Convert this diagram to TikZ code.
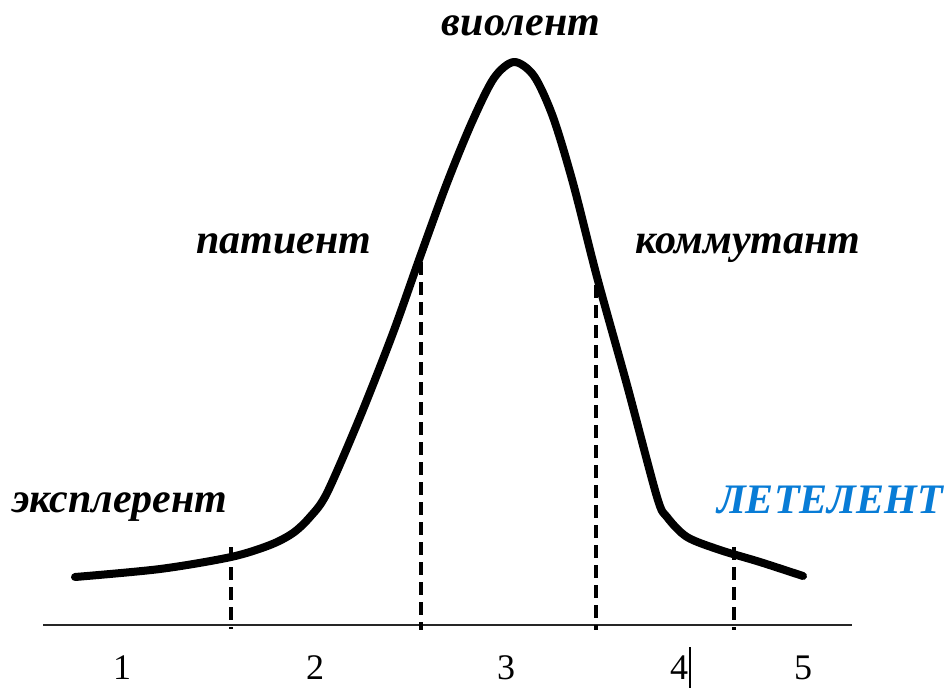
\documentclass[tikz,border=0pt]{standalone}
\usepackage{fontspec}
\setmainfont{Liberation Serif}
\definecolor{letblue}{RGB}{8,124,214}
\begin{document}
\begin{tikzpicture}[x=1pt,y=-1pt,
  lbl/.style={font=\fontsize{42}{46}\selectfont\bfseries\itshape, inner sep=0pt, anchor=base},
  num/.style={font=\fontsize{36}{40}\selectfont, inner sep=0pt, anchor=base},
  curve/.style={line width=8pt, line cap=round, line join=round},
  dashline/.style={line width=4pt, dash pattern=on 13pt off 7pt},
  axis/.style={line width=2.2pt, black!85}]
\useasboundingbox (0,0) rectangle (951,689);
% axis
\coordinate (axL) at (43,625);
\coordinate (axR) at (852,625);
\draw[axis] (axL) -- (axR);
% curve
\draw[curve] plot[smooth, tension=0.5] coordinates {
 (75,577) (160,569) (231,557) (270,545) (293,533) (310,517) (327,493) (360,417)
 (393,333) (420,257) (447,183) (472,122) (494,78) (514,62) (534,76)
 (553,117) (573,183) (597,277) (627,385) (657,497) (667,517) (687,537)
 (720,550) (760,562) (803,576)};
% dashed lines
\coordinate (d1t) at (231,547); \coordinate (d1b) at (231,629);
\coordinate (d2t) at (421,262); \coordinate (d2b) at (421,630);
\coordinate (d3t) at (596,285); \coordinate (d3b) at (596,630);
\coordinate (d4t) at (734,547); \coordinate (d4b) at (734,630);
\draw[dashline] (d1t) -- (d1b);
\draw[dashline] (d2t) -- (d2b);
\draw[dashline] (d3t) -- (d3b);
\draw[dashline] (d4t) -- (d4b);
% labels
\node[lbl] (viol) at (521,35) {виолент};
\node[lbl] (pat) at (284,253) {патиент};
\node[lbl] (kom) at (748,253) {коммутант};
\node[lbl] (eks) at (120,512) {эксплерент};
\node[lbl, text=letblue] (let) at (830,513) {ЛЕТЕЛЕНТ};
% numbers
\node[num] (n1) at (122,679) {1};
\node[num] (n2) at (315,679) {2};
\node[num] (n3) at (506,679) {3};
\node[num] (n4) at (679,679) {4};
\node[num] (n5) at (803,679) {5};
\coordinate (bart) at (690,647);
\coordinate (barb) at (690,688);
\draw[line width=1.4pt] (bart) -- (barb);
\end{tikzpicture}
\end{document}
